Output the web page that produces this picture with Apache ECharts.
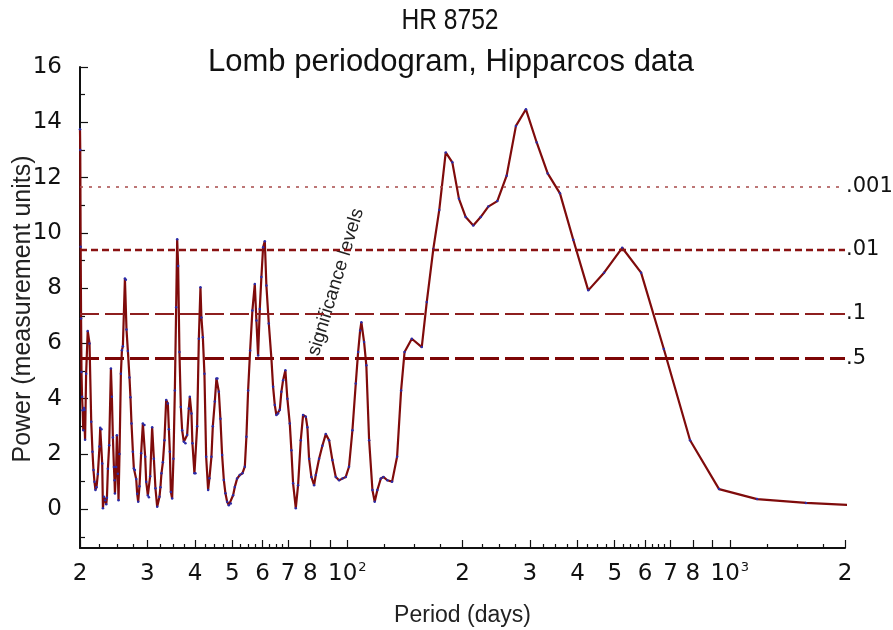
<!DOCTYPE html>
<html>
<head>
<meta charset="utf-8">
<title>HR 8752 – Lomb periodogram</title>
<script src="https://cdn.jsdelivr.net/npm/echarts@6/dist/echarts.min.js"></script>
<style>
  html, body { margin: 0; padding: 0; background: #ffffff; }
  #chart { width: 893px; height: 630px; }
</style>
</head>
<body>
<div id="chart"></div>
<script>
// Lomb periodogram of HR 8752 (Hipparcos photometry): period in days vs power.
const periods = [
  20.00, 20.03, 20.08, 20.13, 20.18, 20.25, 20.32, 20.40, 20.48, 20.55, 20.62, 20.75, 20.95,
  21.18, 21.40, 21.56, 21.69, 21.82, 21.95, 22.09, 22.27, 22.49, 22.59, 22.76, 22.86, 22.96,
  23.10, 23.28, 23.42, 23.52, 23.66, 23.84, 24.09, 24.23, 24.38, 24.53, 24.62, 24.68, 24.87, 24.97,
  25.12, 25.22, 25.37, 25.58, 25.74, 25.89, 26.21, 26.36, 26.46, 26.68, 26.94, 27.10, 27.27, 27.50,
  27.66, 27.83, 28.05, 28.22, 28.39, 28.61, 28.90, 29.20, 29.48, 29.61, 29.79, 30.09, 30.28, 30.51,
  30.88, 31.20, 31.50, 31.83, 32.27, 32.46, 32.66, 32.94, 33.25, 33.60, 33.94, 34.15, 34.35, 34.56,
  34.83, 35.10, 35.40, 35.68, 35.90, 36.11, 36.39, 36.70, 36.99, 37.37, 37.73, 38.12, 38.51, 38.74,
  39.12, 39.35, 39.83, 40.07, 40.48, 40.90, 41.30, 41.54, 41.90, 42.30, 42.74, 43.25, 43.59, 44.12,
  44.49, 45.03, 45.47, 45.74, 46.13, 46.57, 47.05, 47.54, 48.00, 48.49, 48.99, 49.58, 50.27, 50.79,
  51.50, 52.34, 53.16, 53.94, 54.46, 55.02, 55.69, 56.46, 57.28, 57.84, 58.43, 59.03, 59.60, 60.22,
  60.84, 61.42, 62.32, 63.30, 63.95, 64.61, 65.23, 65.90, 66.58, 67.22, 67.92, 68.86, 69.69, 70.71,
  71.39, 72.13, 73.31, 74.33, 75.55, 76.60, 77.86, 78.61, 79.42, 80.53, 81.85, 82.69, 84.35, 86.04,
  87.82, 89.58, 91.38, 93.27, 95.14, 97.05, 99.05, 101.0, 103.1, 105.2, 106.7, 108.0, 108.8, 110.6,
  112.1, 114.0, 116.3, 117.9, 119.8, 122.3, 124.2, 127.2, 130.9, 134.9, 138.2, 141.1, 147.4, 156.5,
  161.3, 167.8, 173.9, 180.8, 188.1, 195.8, 203.9, 213.4, 223.1, 233.6, 246.6, 260.9, 275.9, 293.0,
  312.6, 334.0, 359.6, 389.6, 426.4, 469, 523, 586, 672, 787, 937, 1178, 1581, 2392
];
const power = [
  13.75, 13.0, 9.5, 6.9, 4.97, 4.07, 3.58, 2.86, 3.66, 3.6, 2.52, 4.9, 6.45,
  6.0, 3.17, 2.08, 1.42, 1.0, 0.7, 0.8, 1.28, 2.27, 2.95, 2.9, 1.66, 0.04,
  0.45, 0.33, 0.18, 0.42, 1.47, 2.32, 5.09, 4.07, 2.6, 1.53, 1.05, 0.57, 1.53, 2.68,
  1.29, 0.33, 2.0, 4.9, 5.75, 5.9, 8.35, 8.3, 6.5, 5.73, 4.77, 4.05, 3.1, 2.08,
  1.48, 1.42, 1.1, 0.56, 0.27, 0.83, 2.03, 3.1, 3.05, 1.9, 1.0, 0.5, 0.44, 1.2,
  2.97, 1.83, 0.76, 0.09, 0.45, 0.8, 1.3, 1.7, 2.5, 3.95, 3.83, 2.9, 2.08, 0.63,
  0.39, 1.83, 4.3, 7.31, 9.77, 8.8, 5.69, 3.7, 2.86, 2.44, 2.39, 2.69, 3.65, 4.07,
  3.47, 2.39, 1.3, 1.3, 3.0, 6.17, 8.03, 6.94, 6.22, 4.9, 1.9, 0.7, 1.12, 1.9,
  3.0, 3.9, 4.73, 4.73, 4.25, 3.28, 1.96, 1.06, 0.58, 0.27, 0.15, 0.21, 0.51, 0.81,
  1.11, 1.24, 1.3, 1.54, 2.62, 4.3, 5.74, 7.19, 8.15, 6.83, 5.56, 7.25, 8.4, 9.48,
  9.7, 8.1, 6.72, 5.46, 4.43, 3.77, 3.41, 3.47, 3.6, 4.25, 4.67, 5.03, 4.0, 3.1,
  2.14, 0.94, 0.04, 0.87, 2.5, 3.41, 3.35, 2.97, 1.83, 1.17, 0.87, 1.24, 1.83, 2.3,
  2.72, 2.5, 1.78, 1.17, 1.05, 1.11, 1.17, 1.54, 2.86, 4.55, 5.69, 6.47, 6.77, 6.05,
  5.21, 2.5, 0.7, 0.27, 0.7, 1.11, 1.17, 1.05, 1.0, 1.9, 4.3, 5.69, 6.17, 5.87,
  7.5, 9.42, 10.83, 12.91, 12.55, 11.23, 10.57, 10.27, 10.57, 10.95, 11.15, 12.07, 13.87, 14.47,
  13.27, 12.15, 11.43, 9.75, 7.92, 8.56, 9.46, 8.56, 5.8, 2.5, 0.73, 0.37, 0.23, 0.11
];

// False-alarm significance levels (power) and their probability labels
const sigPower  = [11.68, 9.39, 7.08, 5.47];
const sigLabels = ['.001', '.01', '.1', '.5'];

// Period axis: labelled and major ticks, plus minor ticks
const xLabelValues = [20, 30, 40, 50, 60, 70, 80, 100, 200, 300, 400, 500, 600, 700, 800, 1000, 2000];
const xMajorTicks  = [20, 30, 40, 50, 60, 70, 80, 90, 100, 200, 300, 400, 500, 600, 700, 800, 900, 1000, 2000];
const xMinorTicks  = [22.5, 25, 27.5, 32.5, 35, 37.5, 42.5, 45, 47.5, 52.5, 55, 57.5, 62.5, 65, 67.5,
                      125, 150, 175, 225, 250, 275, 325, 350, 375, 425, 450, 475, 525, 550, 575, 625, 650, 675,
                      1250, 1500, 1750];
// Power axis ticks
const yLabelValues = [0, 2, 4, 6, 8, 10, 12, 14, 16];
const yMinorTicks  = [-1, 1, 3, 5, 7, 9, 11, 13, 15];

const FONT_TICK = 'DejaVu Sans';
const FONT_TEXT = 'Liberation Sans';
const AXIS_COLOR = '#111111';

function periodLabel(v) {
  let val = v < 10 ? Math.pow(10, v) : v;
  val = Math.round(val);
  const exp = Math.floor(Math.log10(val) + 1e-9);
  const mant = Math.round(val / Math.pow(10, exp));
  if (mant === 1) return '{m|10}{s|' + exp + '}';
  return '{m|' + mant + '}';
}

const chart = echarts.init(document.getElementById('chart'), null, { renderer: 'canvas' });

const sigStyles = [
  { type: [3, 6], width: 1.6, color: '#a84a4a' },
  { type: [7, 4], width: 2.4, color: '#8a1212' },
  { type: [19, 6], width: 1.8, color: '#8e1f1f' },
  { type: [19, 6], width: 3.0, color: '#7d0606' }
];

const baseX = {
  type: 'log',
  logBase: 10,
  min: 20,
  max: 2000,
  position: 'bottom',
  splitLine: { show: false },
  minorTick: { show: false },
  minorSplitLine: { show: false }
};
const baseY = {
  type: 'value',
  min: -1.4,
  max: 16,
  position: 'left',
  splitLine: { show: false }
};

const option = {
  animation: false,
  backgroundColor: '#ffffff',
  grid: { left: 80, right: 48, top: 67, bottom: 82, containLabel: false, outerBoundsMode: 'none' },
  xAxis: [
    Object.assign({}, baseX, {
      name: 'Period (days)',
      nameLocation: 'middle',
      nameGap: 56,
      nameTextStyle: { fontFamily: FONT_TEXT, fontSize: 23, color: '#222' },
      axisLine: { show: true, onZero: false, lineStyle: { color: AXIS_COLOR, width: 2 } },
      axisTick: { show: true, inside: true, length: 8, customValues: xMajorTicks,
                  lineStyle: { color: AXIS_COLOR, width: 1.2 } },
      axisLabel: {
        show: true, margin: 13, customValues: xLabelValues,
        formatter: periodLabel,
        rich: {
          m: { fontFamily: FONT_TICK, fontSize: 23, color: '#111', lineHeight: 26 },
          s: { fontFamily: FONT_TICK, fontSize: 13, color: '#111', lineHeight: 26, verticalAlign: 'top', padding: [0, 0, 10, 1] }
        }
      }
    }),
    Object.assign({}, baseX, {
      axisLine: { show: false, onZero: false },
      axisTick: { show: true, inside: true, length: 4, customValues: xMinorTicks,
                  lineStyle: { color: AXIS_COLOR, width: 1.2 } },
      axisLabel: { show: false }
    })
  ],
  yAxis: [
    Object.assign({}, baseY, {
      axisLine: { show: true, onZero: false, lineStyle: { color: AXIS_COLOR, width: 2 } },
      axisTick: { show: true, inside: true, length: 8, customValues: yLabelValues,
                  lineStyle: { color: AXIS_COLOR, width: 1.2 } },
      axisLabel: { show: true, margin: 18, customValues: yLabelValues,
                   fontFamily: FONT_TICK, fontSize: 23, color: '#111' }
    }),
    Object.assign({}, baseY, {
      axisLine: { show: false, onZero: false },
      axisTick: { show: true, inside: true, length: 5, customValues: yMinorTicks,
                  lineStyle: { color: AXIS_COLOR, width: 1.2 } },
      axisLabel: { show: false }
    })
  ],
  graphic: [
    { type: 'text', x: 450, y: 21, scaleX: 0.82,
      style: { text: 'HR 8752', font: '30px "Liberation Sans"', fill: '#111',
               align: 'center', verticalAlign: 'middle' } },
    { type: 'text', x: 451, y: 62,
      style: { text: 'Lomb periodogram, Hipparcos data', font: '31px "Liberation Sans"', fill: '#111',
               align: 'center', verticalAlign: 'middle' } },
    // Power axis title
    { type: 'text', x: 23, y: 309, rotation: Math.PI / 2,
      style: { text: 'Power (measurement units)', font: '25px "Liberation Sans"', fill: '#222',
               align: 'center', verticalAlign: 'middle' } },
    { type: 'text', x: 336, y: 282, rotation: 73 * Math.PI / 180,
      style: { text: 'significance levels', font: '19px "Liberation Sans"', fill: '#222',
               align: 'center', verticalAlign: 'middle' } }
  ],
  series: [
    {
      type: 'line',
      xAxisIndex: 0,
      yAxisIndex: 0,
      data: periods.map((p, i) => [p, power[i]]),
      clip: true,
      showSymbol: true,
      symbol: 'circle',
      symbolSize: 2.5,
      itemStyle: { color: '#2b2ba8', borderWidth: 0 },
      lineStyle: { color: '#7f0b0b', width: 2.2 },
      z: 3,
      markLine: {
        silent: true,
        symbol: 'none',
        animation: false,
        data: sigPower.map((v, i) => ({
          yAxis: v,
          lineStyle: sigStyles[i],
          label: { show: true, position: 'end', formatter: sigLabels[i], distance: 1,
                   fontFamily: FONT_TICK, fontSize: 21, color: '#111' }
        }))
      }
    }
  ]
};

chart.setOption(option);
</script>
</body>
</html>
